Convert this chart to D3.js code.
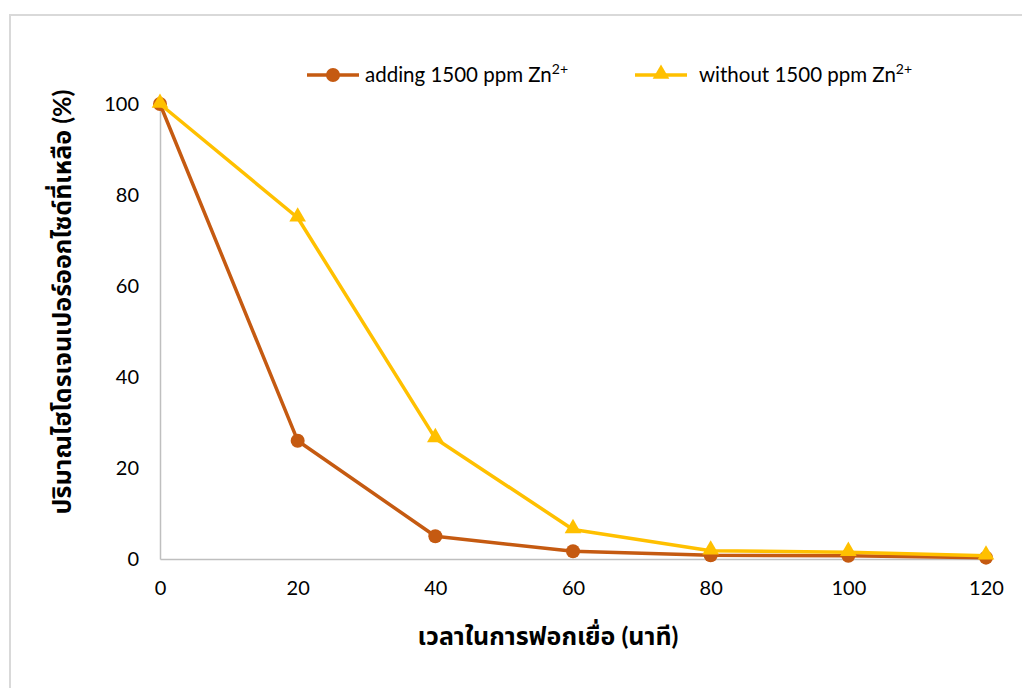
<!DOCTYPE html>
<html>
<head>
<meta charset="utf-8">
<script src="https://cdn.jsdelivr.net/npm/d3@7/dist/d3.min.js"></script>
<style>
  html, body { margin: 0; padding: 0; background: #fff; }
  svg { display: block; }
  text { font-family: Lato, "Noto Sans", "Noto Sans Thai", "DejaVu Sans", sans-serif; fill: #000; }
</style>
</head>
<body>
<svg id="chart" width="1022" height="688"></svg>
<script>
// Reaction time (minutes)
const times = [0, 20, 40, 60, 80, 100, 120];
// Residual hydrogen peroxide (%)
const withZn = [100, 26, 5, 1.7, 0.8, 0.7, 0.3];
const withoutZn = [100, 75, 26.5, 6.5, 1.8, 1.5, 0.7];
const xTicks = [0, 20, 40, 60, 80, 100, 120];
const yTicks = [0, 20, 40, 60, 80, 100];

const seriesNames = ["adding 1500 ppm Zn", "without 1500 ppm Zn"];
const seriesSup = "2+";
const seriesColors = ["#C55A11", "#FFC000"];
const xTitle = "เวลาในการฟอกเยื่อ (นาที)";
const yTitle = "ปริมาณไฮโดรเจนเปอร์ออกไซด์ที่เหลือ (%)";

const svg = d3.select("#chart");

// chart frame
svg.append("rect")
  .attr("x", 10).attr("y", 15)
  .attr("width", 1030).attr("height", 700)
  .attr("fill", "#fff")
  .attr("stroke", "#d9d9d9").attr("stroke-width", 2);

const x = d3.scaleLinear().domain([0, 120]).range([160, 986]);
const y = d3.scaleLinear().domain([0, 100]).range([559, 104]);

// axes
const xAxis = svg.append("g").attr("transform", `translate(0,${y(0)})`)
  .call(d3.axisBottom(x).tickValues(xTicks).tickSize(0).tickPadding(22).tickFormat(d3.format("d")));
const yAxis = svg.append("g").attr("transform", `translate(${x(0)},0)`)
  .call(d3.axisLeft(y).tickValues(yTicks).tickSize(0).tickPadding(21).tickFormat(d3.format("d")));

[xAxis, yAxis].forEach(g => {
  g.select(".domain").attr("stroke", "#bfbfbf").attr("stroke-width", 1.5);
  g.selectAll("text").attr("font-size", 20).attr("fill", "#000")
    .style("font-family", "Lato, 'Noto Sans', sans-serif");
});

// axis titles
svg.append("text")
  .attr("x", 548).attr("y", 645)
  .attr("text-anchor", "middle")
  .attr("font-size", 25).attr("font-weight", "bold")
  .text(xTitle);

svg.append("text")
  .attr("transform", "translate(71,302) rotate(-90)")
  .attr("text-anchor", "middle")
  .attr("font-size", 25).attr("font-weight", "bold")
  .text(yTitle);

const line = d3.line().x((d, i) => x(times[i])).y(d => y(d));
const triangle = d3.symbol().type(d3.symbolTriangle).size(120);

// series lines and markers
const allSeries = [withZn, withoutZn];
allSeries.forEach((vals, s) => {
  svg.append("path")
    .datum(vals)
    .attr("d", line)
    .attr("fill", "none")
    .attr("stroke", seriesColors[s])
    .attr("stroke-width", 3.5)
    .attr("stroke-linejoin", "round");
  const m = svg.append("g");
  if (s === 0) {
    m.selectAll("circle").data(vals).join("circle")
      .attr("cx", (d, i) => x(times[i]))
      .attr("cy", d => y(d))
      .attr("r", 7)
      .attr("fill", seriesColors[s]);
  } else {
    m.selectAll("path").data(vals).join("path")
      .attr("d", triangle)
      .attr("transform", (d, i) => `translate(${x(times[i])},${y(d) - 1})`)
      .attr("fill", seriesColors[s]);
  }
});

// legend
const legendItems = [
  { x0: 307, tx: 365 },
  { x0: 635, tx: 699 }
];
legendItems.forEach((it, s) => {
  const ly = 75;
  svg.append("line")
    .attr("x1", it.x0).attr("x2", it.x0 + 52)
    .attr("y1", ly).attr("y2", ly)
    .attr("stroke", seriesColors[s]).attr("stroke-width", 3.5);
  if (s === 0) {
    svg.append("circle").attr("cx", it.x0 + 26).attr("cy", ly).attr("r", 7).attr("fill", seriesColors[s]);
  } else {
    svg.append("path").attr("d", triangle)
      .attr("transform", `translate(${it.x0 + 26},${ly - 1})`)
      .attr("fill", seriesColors[s]);
  }
  const t = svg.append("text")
    .attr("x", it.tx).attr("y", ly + 7)
    .attr("font-size", 20.5)
    .text(seriesNames[s]);
  t.append("tspan")
    .attr("font-size", 14)
    .attr("dy", -8)
    .text(seriesSup);
});
</script>
</body>
</html>
